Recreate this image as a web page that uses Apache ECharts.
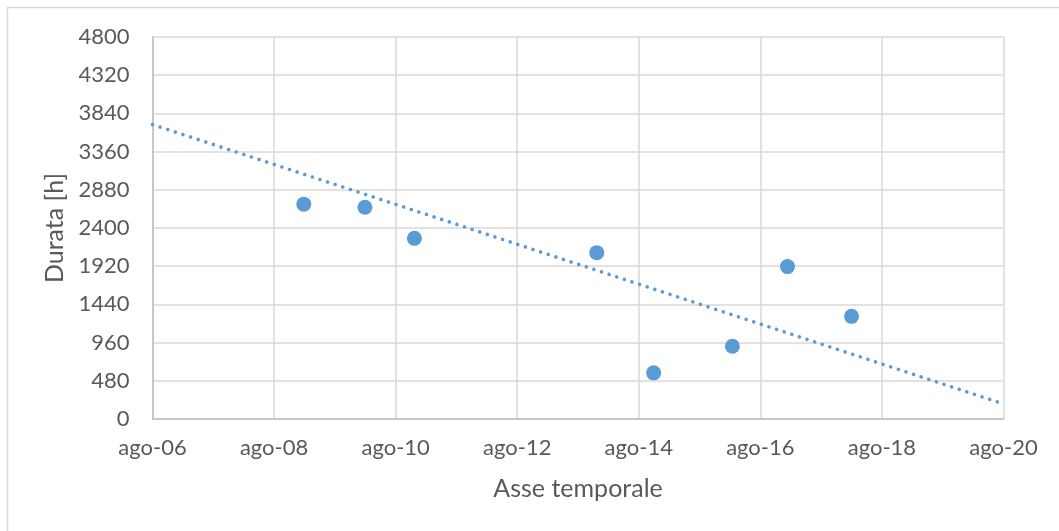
<!DOCTYPE html>
<html>
<head>
<meta charset="utf-8">
<script src="https://cdn.jsdelivr.net/npm/echarts@6/dist/echarts.min.js"></script>
<style>
  html, body { margin: 0; padding: 0; background: #ffffff; }
  #chart { width: 1059px; height: 531px; }
</style>
</head>
<body>
<div id="chart"></div>
<script>
// Observation dates and measured durations (hours)
const dates = ['2009-01-28', '2010-01-30', '2010-11-22', '2013-11-22', '2014-10-30', '2016-02-15', '2017-01-12', '2018-02-01'];
const durations = [2700, 2660, 2270, 2090, 580, 915, 1915, 1290];

// Linear trend line, end points over the full axis span
const trendDates = ['2006-08-01', '2020-08-01'];
const trendValues = [3700, 190];

// Axis ranges
const axisStart = '2006-08-01';
const axisEnd = '2020-08-01';
const xStepMonths = 24;
const yMax = 4800;
const yStep = 480;

// Italian month abbreviations for the tick labels
const mesi = ['gen', 'feb', 'mar', 'apr', 'mag', 'giu', 'lug', 'ago', 'set', 'ott', 'nov', 'dic'];

function parseDate(s) {
  const [y, m, d] = s.split('-').map(Number);
  return { y, m, d };
}
const start = parseDate(axisStart);
// Months elapsed since the axis start (fractional)
function monthsFromStart(s) {
  const p = parseDate(s);
  const dim = new Date(Date.UTC(p.y, p.m, 0)).getUTCDate();
  return (p.y - start.y) * 12 + (p.m - start.m) + (p.d - 1) / dim;
}

const textColor = '#595959';
const font = 'Lato, "Noto Sans", sans-serif';

const chart = echarts.init(document.getElementById('chart'), null, { renderer: 'canvas' });

chart.setOption({
  backgroundColor: '#ffffff',
  animation: false,
  graphic: [{
    type: 'rect',
    shape: { x: 7.5, y: 7.5, width: 1200, height: 700 },
    style: { fill: 'none', stroke: '#d9d9d9', lineWidth: 1.5 },
    silent: true,
    z: -10
  }],
  grid: { left: 152.5, right: 55.5, top: 37, bottom: 112 },
  xAxis: {
    type: 'value',
    min: 0,
    max: monthsFromStart(axisEnd),
    interval: xStepMonths,
    name: 'Asse temporale',
    nameLocation: 'middle',
    nameGap: 57,
    nameTextStyle: { color: textColor, fontFamily: font, fontSize: 25 },
    axisLine: { show: true, onZero: false, lineStyle: { color: '#bfbfbf', width: 1.5 } },
    axisTick: { show: false },
    axisLabel: {
      color: textColor, fontFamily: font, fontSize: 22, margin: 18,
      formatter: function (v) {
        const idx = (start.m - 1) + Math.round(v);
        const year = start.y + Math.floor(idx / 12);
        return mesi[idx % 12] + '-' + String(year % 100).padStart(2, '0');
      }
    },
    splitLine: { show: true, lineStyle: { color: '#d9d9d9', width: 1.5 } }
  },
  yAxis: {
    type: 'value',
    min: 0,
    max: yMax,
    interval: yStep,
    name: 'Durata [h]',
    nameLocation: 'middle',
    nameGap: 80,
    nameTextStyle: { color: textColor, fontFamily: font, fontSize: 25 },
    axisLine: { show: true, lineStyle: { color: '#bfbfbf', width: 1.5 } },
    axisTick: { show: false },
    axisLabel: {
      color: textColor, fontFamily: font, fontSize: 22, margin: 23,
      formatter: function (v) { return String(v); }
    },
    splitLine: { show: true, lineStyle: { color: '#d9d9d9', width: 1.5 } }
  },
  series: [
    {
      name: 'Durata',
      type: 'scatter',
      symbol: 'circle',
      symbolSize: 15,
      itemStyle: { color: '#5b9bd5', opacity: 1 },
      data: dates.map((d, i) => [monthsFromStart(d), durations[i]]),
      z: 3
    },
    {
      name: 'Tendenza',
      type: 'line',
      showSymbol: false,
      symbol: 'none',
      data: trendDates.map((d, i) => [monthsFromStart(d), trendValues[i]]),
      lineStyle: { color: '#5b9bd5', width: 3.6, type: [0.01, 8], cap: 'round' },
      z: 4
    }
  ]
});
</script>
</body>
</html>
